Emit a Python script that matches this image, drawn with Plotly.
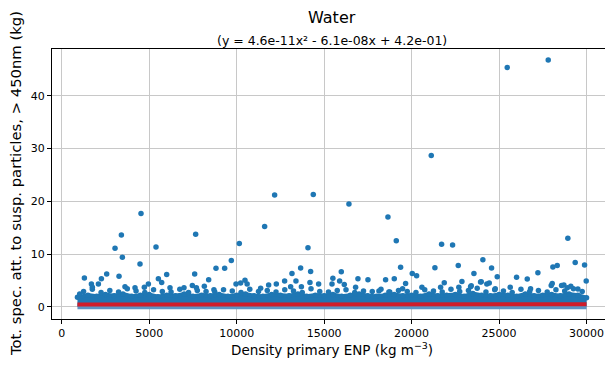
import numpy as np
import plotly.graph_objects as go

# scattered points (density in kg m-3, value in kg)
out_x = [3048, 3410, 3467, 4533, 4476, 5390, 7657, 10152, 11600, 12171, 14076, 14380,
         16419, 18648, 19124, 21124, 21714, 22343, 25467, 27810, 28931, 24074, 29352,
         29886, 9695]
out_y = [11.1, 13.6, 9.4, 17.7, 8.1, 11.35, 13.75, 12.0, 15.2, 21.2, 11.2, 21.3,
         19.5, 17.0, 12.5, 28.7, 11.85, 11.7, 45.4, 46.8, 13.0, 8.9, 8.4,
         7.9, 8.75]

mid_x = [1297, 1697, 1752, 2097, 2268, 2571, 3276, 3617, 4190, 4724, 4953, 5525,
         5714, 6000, 6190, 6990, 7467, 7600, 7700, 8152, 8400, 8700, 8819, 9314,
         9962, 10228, 10476, 10600, 11371, 11829, 12267, 12743, 13086, 13162, 13390,
         13657, 13700, 14190, 14228, 14686, 15500, 15450, 15886, 15981, 16152, 16800,
         16933, 17505, 18133, 18514, 18700, 19010, 19371, 19486, 19657, 20038, 20286,
         20590, 21333, 21657, 21867, 22667, 22700, 22876, 23371, 23410, 23562, 23943,
         23981, 24300, 24438, 24571, 24781, 24895, 25638, 26000, 26610, 26800, 27219,
         27981, 28038, 28076, 28324, 28571, 28705, 28900, 29100, 29505, 29981, 1028]
mid_y = [5.45, 4.3, 3.7, 4.3, 5.3, 6.2, 5.8, 3.8, 3.6, 3.7, 4.3, 5.3,
         4.6, 6.1, 3.6, 3.6, 4.05, 6.2, 3.6, 3.9, 5.1, 3.2, 7.3, 7.3,
         4.3, 4.5, 5.0, 4.3, 3.5, 4.1, 4.3, 4.9, 3.8, 6.3, 4.9,
         7.35, 3.8, 4.6, 6.7, 4.3, 5.4, 4.3, 4.9, 6.65, 4.2, 3.7,
         5.3, 5.1, 3.0, 5.1, 2.8, 5.3, 7.5, 3.4, 4.4, 6.3, 5.9,
         3.7, 7.4, 3.7, 4.55, 7.8, 3.7, 4.8, 3.8, 4.0, 6.3, 4.7,
         4.75, 4.3, 4.5, 7.35, 3.4, 5.7, 3.7, 5.6, 5.25, 3.4, 6.45,
         4.05, 4.4, 7.55, 7.8, 4.05, 4.1, 3.6, 3.9, 3.36, 4.9, 2.4]

# dense cloud near zero: upper edge of the solid part and the loose dots just above it
core_x = [900, 1500, 2000, 2500, 3000, 3500, 4000, 4500, 5000, 5500, 6000, 6500, 7000,
          7500, 8000, 8500, 9000, 9500, 10000, 10500, 11000, 11500, 12000, 12500, 13000,
          13500, 14000, 14500, 15000, 15500, 16000, 16500, 17000, 17500, 18000, 18500,
          19000, 19500, 20000, 20500, 21000, 21500, 22000, 22500, 23000, 23500, 24000,
          24500, 25000, 25500, 26000, 26500, 27000, 27500, 28000, 28500, 29000, 29500,
          30000]
core_top = [1.8, 2.2, 2.0, 2.3, 2.1, 2.4, 2.0, 2.2, 2.3, 1.9, 2.2, 2.1, 2.4,
            2.0, 2.2, 2.1, 2.3, 2.0, 2.2, 2.4, 2.1, 2.0, 2.3, 2.2, 2.1,
            2.4, 2.0, 2.2, 2.1, 2.3, 2.0, 2.2, 2.4, 2.1, 2.0, 2.2,
            2.3, 2.1, 2.2, 2.0, 2.4, 2.1, 2.2, 2.3, 2.0, 2.5, 2.2,
            2.1, 2.3, 2.2, 2.0, 2.4, 2.1, 2.2, 2.3, 2.1, 2.4, 2.2,
            1.7]
ridge_x = [1250, 1750, 2250, 2750, 3250, 3750, 4250, 4750, 5250, 5750, 6250, 6750,
           7250, 7750, 8250, 8750, 9250, 9750, 10250, 10750, 11250, 11750, 12250, 12750,
           13250, 13750, 14250, 14750, 15250, 15750, 16250, 16750, 17250, 17750, 18250,
           18750, 19250, 19750, 20250, 20750, 21250, 21750, 22250, 22750, 23250, 23750,
           24250, 24750, 25250, 25750, 26250, 26750, 27250, 27750, 28250, 28750, 29250,
           29750]
ridge_y = [2.9, 3.3, 2.7, 3.1, 2.8, 3.4, 3.0, 2.7, 3.2, 2.9, 2.8, 3.3,
           2.7, 3.1, 2.9, 2.8, 3.2, 3.0, 2.7, 3.3, 2.9, 3.1, 2.8, 3.2,
           3.0, 2.7, 3.4, 2.9, 2.8, 3.1, 3.2, 2.7, 3.0, 2.9, 3.3,
           2.8, 3.1, 2.9, 2.7, 3.2, 3.0, 2.8, 3.3, 2.9, 3.1, 3.5,
           2.8, 3.2, 3.0, 2.7, 3.3, 2.9, 3.1, 2.8, 3.2, 3.0, 3.4,
           2.9]

# quadratic fit shown in the subtitle
fit_coef = [4.6e-11, -6.1e-08, 4.2e-01]
fit_x = [900, 8000, 15000, 22000, 30000]

blue = '#1f77b4'
font = 'DejaVu Sans, Arial, sans-serif'

fig = go.Figure()
# solid cloud base and upper edge
fig.add_trace(go.Scatter(x=core_x, y=[0] * len(core_x), mode='lines',
                         line=dict(color='#5d93c4', width=5), showlegend=False))
fig.add_trace(go.Scatter(x=core_x, y=core_top, mode='lines+markers', fill='tonexty',
                         fillcolor=blue, line=dict(color=blue, width=4),
                         marker=dict(color=blue, size=5.5), showlegend=False))
fig.add_trace(go.Scatter(x=ridge_x, y=ridge_y, mode='markers',
                         marker=dict(color=blue, size=5.5), showlegend=False))
fig.add_trace(go.Scatter(x=mid_x + out_x, y=mid_y + out_y, mode='markers',
                         marker=dict(color=blue, size=5.5), showlegend=False))
fig.add_trace(go.Scatter(x=fit_x, y=np.polyval(fit_coef, fit_x), mode='lines',
                         line=dict(color='#d01c2a', width=4), showlegend=False))

fig.add_annotation(text='Water', x=0.5, y=1.115, xref='paper', yref='paper',
                   showarrow=False, yanchor='middle', font=dict(size=16, color='black'))
fig.add_annotation(text='(y = 4.6e-11x² - 6.1e-08x + 4.2e-01)', x=0.5, y=1.033,
                   xref='paper', yref='paper', showarrow=False, yanchor='middle',
                   font=dict(size=12.5, color='black'))
# axis titles placed as annotations
fig.add_annotation(text='Density primary ENP (kg m<sup>−3</sup>)', x=0.5, y=-0.111,
                   xref='paper', yref='paper', showarrow=False, yanchor='middle',
                   font=dict(size=13.5, color='black'))
fig.add_annotation(text='Tot. spec. att. to susp. particles, > 450nm (kg)', x=-0.066, y=0.5,
                   xref='paper', yref='paper', showarrow=False, xanchor='center',
                   yanchor='middle', textangle=-90, font=dict(size=14.8, color='black'))

# the page body adds an 8px offset, so the figure is drawn 8px smaller
fig.update_layout(
    width=605, height=369,
    margin=dict(l=44, r=1, t=41, b=58, autoexpand=False),
    plot_bgcolor='white', paper_bgcolor='white',
    font=dict(family=font, size=11, color='black'),
)
fig.update_xaxes(
    range=[-555, 31455], tickvals=[0, 5000, 10000, 15000, 20000, 25000, 30000],
    tickformat='d', showgrid=True, gridcolor='#c8c8c8', gridwidth=1, zeroline=False,
    showline=True, linecolor='black', linewidth=1, mirror=True,
    ticks='outside', ticklen=4, tickcolor='black', automargin=False,
)
fig.update_yaxes(
    range=[-2.33, 48.9], tickvals=[0, 10, 20, 30, 40],
    showgrid=True, gridcolor='#c8c8c8', gridwidth=1, zeroline=False,
    showline=True, linecolor='black', linewidth=1, mirror=True,
    ticks='outside', ticklen=4, tickcolor='black', automargin=False,
)

fig.write_html("out.html")
